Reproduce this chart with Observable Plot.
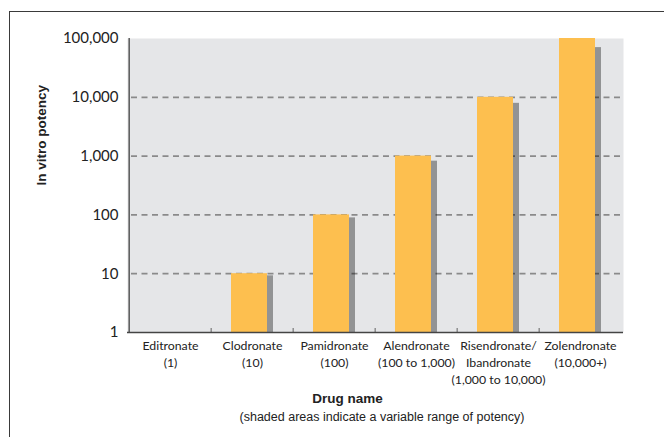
<!DOCTYPE html>
<html><head><meta charset="utf-8">
<script src="https://cdn.jsdelivr.net/npm/d3@7"></script>
<script src="https://cdn.jsdelivr.net/npm/@observablehq/plot@0.6"></script>
<style>
body{margin:0;background:#fff;width:664px;height:437px;overflow:hidden;position:relative;font-family:"Liberation Sans",Arial,sans-serif}
#border{position:absolute;left:9px;top:11px;width:700px;height:500px;border-top:1.6px solid #3a3a3a;border-left:1.6px solid #3a3a3a}
#chart{position:absolute;left:0;top:0}
#xtitle{position:absolute;top:391px;left:0;width:695px;text-align:center;font-weight:bold;font-size:13.5px;color:#222}
#xsub{position:absolute;top:410px;left:0;width:764px;text-align:center;font-size:12.5px;color:#222}
</style></head><body>
<div id="border"></div>
<div id="chart"></div>
<div id="xtitle">Drug name</div>
<div id="xsub">(shaded areas indicate a variable range of potency)</div>
<script>
const drugs = ["Editronate","Clodronate","Pamidronate","Alendronate","Risendronate","Zolendronate"];
const tickLabels = ["Editronate\n(1)","Clodronate\n(10)","Pamidronate\n(100)","Alendronate\n(100 to 1,000)","Risendronate/\nIbandronate\n(1,000 to 10,000)","Zolendronate\n(10,000+)"];
const potency = [1, 10, 100, 1000, 10000, 100000];
const lowerPotency = [1, 9.2, 89, 820, 7900, 70000];
const yTicks = [1, 10, 100, 1000, 10000, 100000];
const gridValues = [10, 100, 1000, 10000];
const yLabel = "In vitro potency";

const data = drugs.map((d, i) => ({drug: d, hi: potency[i], lo: lowerPotency[i]}));
const W = 664, H = 390, mL = 127, mR = 41, mT = 38, mB = 58;
const band = (W - mL - mR) / drugs.length;
const tfont = "Lato, 'Open Sans', sans-serif";

const chart = Plot.plot({
  width: W, height: H,
  marginLeft: mL, marginRight: mR, marginTop: mT, marginBottom: mB,
  style: {fontFamily: tfont, color: "#222", background: "transparent"},
  x: {domain: drugs, padding: 0, axis: null},
  y: {type: "log", domain: [1, 100000], axis: null},
  marks: [
    Plot.frame({fill: "#e5e6e8", stroke: null}),
    Plot.ruleY(gridValues, {stroke: "#8a8a8a", strokeWidth: 1.8, strokeDasharray: "6,4.5", insetLeft: 4}),
    Plot.barY(data, {x: "drug", y1: 1, y2: "lo", fill: "#000", fillOpacity: 0.36, insetLeft: 26, insetRight: 20}),
    Plot.barY(data, {x: "drug", y1: 1, y2: "hi", fill: "#fdbf4f", insetLeft: 20, insetRight: 26}),
    Plot.ruleX(drugs.slice(1), {x: d => d, dx: -band / 2, stroke: "#777", strokeWidth: 1.2, insetTop: H - mT - mB - 4}),
    Plot.ruleX([drugs[0]], {x: d => d, dx: -band / 2, stroke: "#444", strokeWidth: 1.3}),
    Plot.ruleY([1], {stroke: "#444", strokeWidth: 1.3}),
    Plot.axisY({ticks: yTicks, tickSize: 0, tickPadding: 9, tickFormat: d3.format(","), fontSize: 15, label: null, fontFamily: tfont}),
    Plot.axisX({tickSize: 0, tickPadding: 5, tickFormat: (d, i) => tickLabels[drugs.indexOf(d)], fontSize: 12.3, lineHeight: 1.4, label: null, fontFamily: tfont}),
    Plot.text([yLabel], {frameAnchor: "left", dx: -86, rotate: -90, fontSize: 13.5, fontWeight: 600, fontFamily: "'Liberation Sans', Arial, sans-serif", fill: "#222"})
  ]
});
document.getElementById("chart").appendChild(chart);
</script>
</body></html>
